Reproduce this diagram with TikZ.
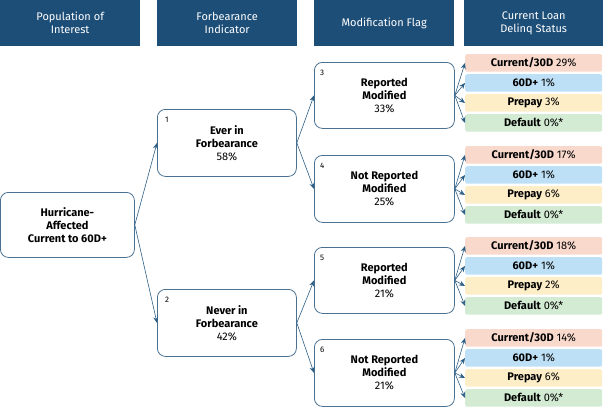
\documentclass[tikz,border=0pt]{standalone}
\usepackage{fontspec}
\setmainfont{Fira Sans}
\usetikzlibrary{arrows.meta}
\definecolor{hdr}{HTML}{1D4E77}
\definecolor{arr}{HTML}{2D5F86}
\definecolor{cpe}{HTML}{F8D9CC}
\definecolor{cbl}{HTML}{BDE0F6}
\definecolor{cye}{HTML}{FDEEC8}
\definecolor{cgr}{HTML}{D3EBD3}
\begin{document}
\begin{tikzpicture}[x=1pt,y=-1pt,
  every node/.style={font=\fontsize{11}{13}\selectfont},
  hbox/.style={fill=hdr,text=white,minimum height=46pt,align=center,inner sep=0pt,anchor=north west},
  tbox/.style={draw=hdr!80,thick,rounded corners=8pt,fill=white,align=center,anchor=north west,inner sep=0pt},
  sbox/.style={rounded corners=2pt,minimum width=137pt,minimum height=17.5pt,anchor=north west,inner sep=0pt},
  con/.style={draw=arr,-{Stealth[length=6pt,width=5pt]},semithick},
  num/.style={font=\fontsize{8}{9}\selectfont,anchor=north west,inner sep=0pt}]
\useasboundingbox (0,0) rectangle (603,418);
\node[hbox,minimum width=140pt] (h1) at (0,0) {Population of\\Interest};
\node[hbox,minimum width=140pt] (h2) at (157,0) {Forbearance\\Indicator};
\node[hbox,minimum width=140pt] (h3) at (314,0) {Modification Flag};
\node[hbox,minimum width=139pt] (h4) at (464,0) {Current Loan\\Delinq Status};
\node[tbox,minimum width=134pt,minimum height=65pt] (r) at (0,192) {\textbf{Hurricane-}\\\textbf{Affected}\\\textbf{Current to 60D+}};
\node[tbox,minimum width=139pt,minimum height=67pt] (n1) at (157,109) {\textbf{Ever in}\\\textbf{Forbearance}\\58\%};
\node[tbox,minimum width=139pt,minimum height=67pt] (n2) at (157,289) {\textbf{Never in}\\\textbf{Forbearance}\\42\%};
\node[tbox,minimum width=140pt,minimum height=66pt] (n3) at (314,62) {\textbf{Reported}\\\textbf{Modified}\\33\%};
\node[tbox,minimum width=140pt,minimum height=67pt] (n4) at (314,155) {\textbf{Not Reported}\\\textbf{Modified}\\25\%};
\node[tbox,minimum width=140pt,minimum height=66pt] (n5) at (314,247) {\textbf{Reported}\\\textbf{Modified}\\21\%};
\node[tbox,minimum width=140pt,minimum height=67pt] (n6) at (314,339) {\textbf{Not Reported}\\\textbf{Modified}\\21\%};
\node[num] (k1) at (165,117) {1};
\node[num] (k2) at (165,297) {2};
\node[num] (k3) at (320,70) {3};
\node[num] (k4) at (320,163) {4};
\node[num] (k5) at (320,255) {5};
\node[num] (k6) at (320,347) {6};
\draw[con] (r.east) -- (n1.west);
\draw[con] (r.east) -- (n2.west);
\draw[con] (n1.east) -- (n3.west);
\draw[con] (n1.east) -- (n4.west);
\draw[con] (n2.east) -- (n5.west);
\draw[con] (n2.east) -- (n6.west);
\foreach \g/\y/\a/\b/\c in {3/54/29/6/3, 4/146/17/6/6, 5/237/18/2/2, 6/329/14/6/6}{
  \node[sbox,fill=cpe] (c\g a) at (465,\y) {\textbf{Current/30D} \a\%};
  \node[sbox,fill=cbl] (c\g b) at (465,\y+20) {\textbf{60D+} 1\%};
  \node[sbox,fill=cye] (c\g c) at (465,\y+40) {\textbf{Prepay} \c\%};
  \node[sbox,fill=cgr] (c\g d) at (465,\y+60) {\textbf{Default} 0\%*};
  \foreach \s in {a,b,c,d}{\draw[con] (n\g.east) -- (c\g\s.west);}
}
\end{tikzpicture}
\end{document}
